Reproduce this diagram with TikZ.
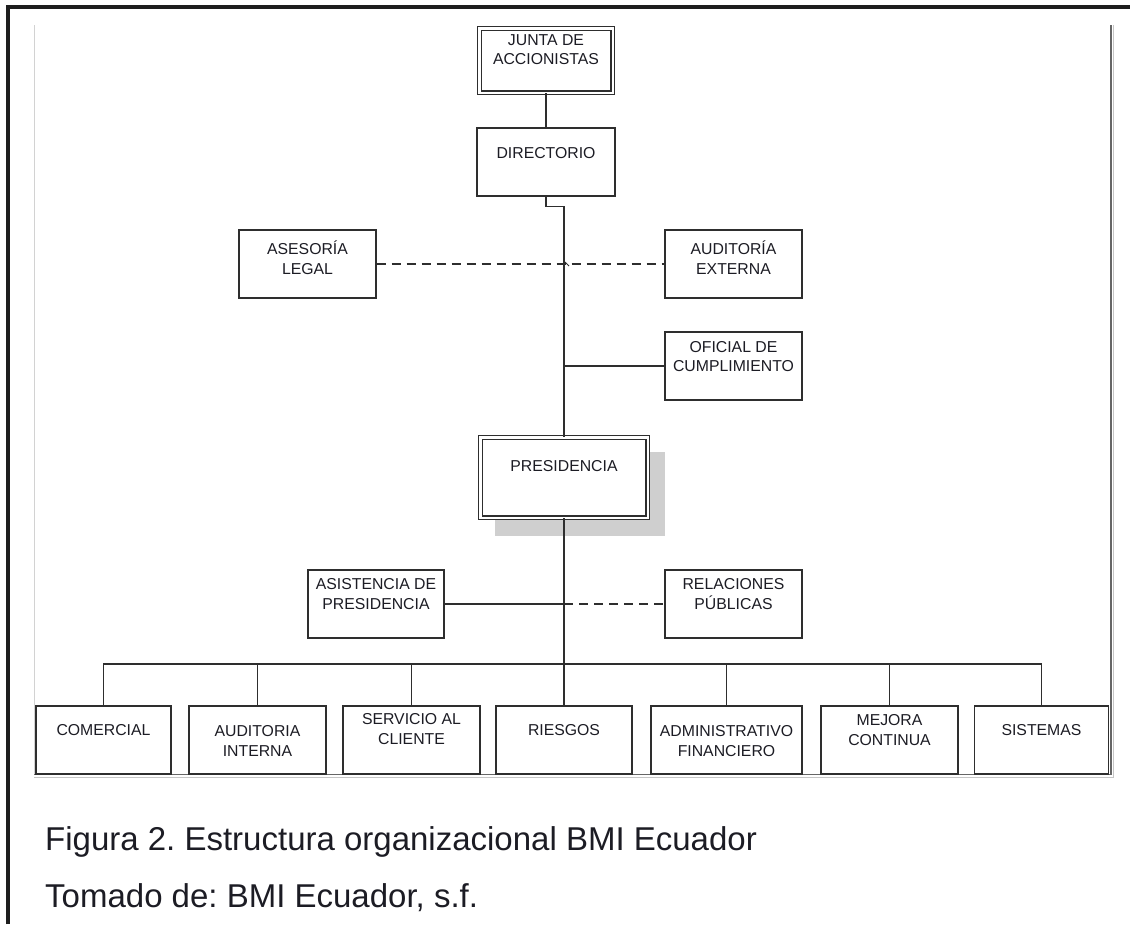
\documentclass[tikz,border=0pt]{standalone}
\usepackage{fontspec}
\setmainfont{Liberation Sans}
\frenchspacing
\definecolor{linec}{HTML}{2E2E2E}
\definecolor{txtc}{HTML}{1C1C24}
\definecolor{framec}{HTML}{1E1E1E}
\definecolor{shadowc}{HTML}{CFCFCF}
\begin{document}
\begin{tikzpicture}[x=1pt,y={(0pt,-1pt)},
  box/.style={draw=linec, line width=1.2pt, fill=white, inner sep=0pt,
              minimum width=137pt, minimum height=68pt},
  dbox/.style={box, double=white, double distance=2.4pt, line width=1.2pt},
  lbl/.style={font=\fontsize{15.8}{19.5}\selectfont, align=center, text=txtc, inner sep=0pt},
  wire/.style={draw=linec, line width=1.2pt},
  dashwire/.style={wire, dash pattern=on 9pt off 6pt},
  caption/.style={font=\fontsize{33}{40}\selectfont, text=txtc, anchor=base west, inner sep=0pt}]

% page size
\useasboundingbox (0,0) rectangle (1130,924);

% outer frame (top and left)
\draw[framec, line width=4pt] (8,924) -- (8,7) -- (1130,7);

% inner sheet edges
\draw[gray!35, line width=1pt] (34.3,25) -- (34.3,774.5);
\draw[gray!45, line width=1pt] (34,777) -- (1113.5,777) -- (1113.5,25);
\draw[gray!80!black, line width=1.1pt] (34,774.5) -- (1111,774.5) -- (1111,25);

% top levels
\node[dbox, minimum width=133.4pt, minimum height=64.4pt] (junta) at (546,60.5) {};
\node[lbl] (juntaT) at (546,49.5) {JUNTA DE\\ACCIONISTAS};

\node[box, minimum width=138pt] (dir) at (546,162) {};
\node[lbl] (dirT) at (546,153) {DIRECTORIO};

% advisory units
\node[box] (ases) at (307.5,264) {};
\node[lbl] (asesT) at (307.5,257.5) {ASESORÍA\\LEGAL};
\node[box] (audext) at (733.5,264) {};
\node[lbl] (audextT) at (733.5,257.5) {AUDITORÍA\\EXTERNA};
\node[box] (ofic) at (733.5,366) {};
\node[lbl] (oficT) at (733.5,356.5) {OFICIAL DE\\CUMPLIMIENTO};

% presidency with drop shadow
\fill[shadowc] (495,452) rectangle (665,536);
\node[dbox, minimum width=167.4pt, minimum height=80.4pt] (pres) at (564,477.5) {};
\node[lbl] (presT) at (564,466) {PRESIDENCIA};

% presidency staff units
\node[box, minimum width=136pt] (asist) at (376,604) {};
\node[lbl] (asistT) at (376,594) {ASISTENCIA DE\\PRESIDENCIA};
\node[box] (rel) at (733.5,604) {};
\node[lbl] (relT) at (733.5,594) {RELACIONES\\PÚBLICAS};

% operating areas
\node[box, minimum width=135pt] (com) at (103.5,740) {};
\node[lbl] (comT) at (103.5,730) {COMERCIAL};
\node[box] (audint) at (257.5,740) {};
\node[lbl] (audintT) at (257.5,741) {AUDITORIA\\INTERNA};
\node[box] (serv) at (411.5,740) {};
\node[lbl] (servT) at (411.5,729) {SERVICIO AL\\CLIENTE};
\node[box, minimum width=136pt] (ries) at (564,740) {};
\node[lbl] (riesT) at (564,730) {RIESGOS};
\node[box, minimum width=151pt] (adm) at (726.5,740) {};
\node[lbl] (admT) at (726.5,741) {ADMINISTRATIVO\\FINANCIERO};
\node[box] (mej) at (889.5,740) {};
\node[lbl] (mejT) at (889.5,730) {MEJORA\\CONTINUA};
\node[box, minimum width=134pt] (sis) at (1041.5,740) {};
\node[lbl] (sisT) at (1041.5,730) {SISTEMAS};

% connectors
\coordinate (bus) at (0,664);
\draw[wire] (junta.south) -- (dir.north);
\draw[wire] (dir.south) -- ++(0,10) -| (pres.north);
\draw[dashwire] (ases.east) -- (audext.west);
\draw[wire, line width=0.9pt] (565,262) -- (569,266);
\draw[wire] (ofic.west -| pres.north) -- (ofic.west);
\draw[wire] (asist.east) -- (asist.east -| pres.south);
\draw[dashwire] (asist.east -| pres.south) -- (rel.west);
\draw[wire] (pres.south) -- (ries.north);
\draw[wire] (com.north) |- (bus -| sis.north) -- (sis.north);
\foreach \n in {audint,serv,adm,mej}
  \draw[wire] (\n.north) -- (\n.north |- bus);

% caption
\node[caption] (cap1) at (45,850) {Figura 2. Estructura organizacional BMI Ecuador};
\node[caption] (cap2) at (45,907) {Tomado de: BMI Ecuador, s.f.};
\end{tikzpicture}
\end{document}
